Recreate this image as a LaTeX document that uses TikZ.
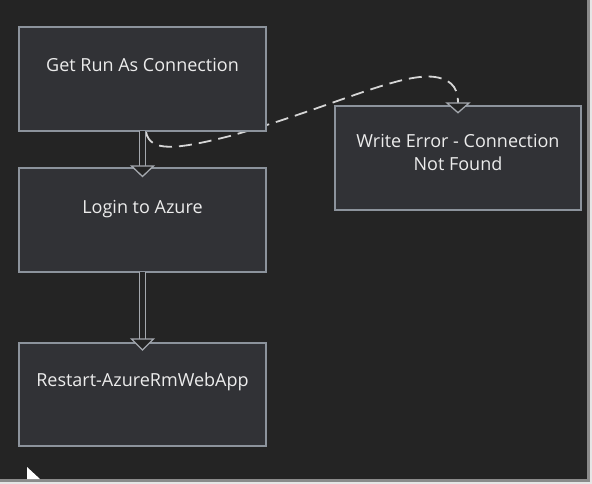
\documentclass[tikz,border=0pt]{standalone}
\usepackage{fontspec}
\setmainfont{Open Sans}
\usetikzlibrary{calc,backgrounds}
\definecolor{bgc}{HTML}{242424}
\definecolor{boxc}{HTML}{313236}
\definecolor{bordc}{HTML}{8C939C}
\definecolor{txtc}{HTML}{ECECEC}
\definecolor{arrc}{HTML}{A4A8AE}
\definecolor{dashc}{HTML}{D6D6D6}
\definecolor{shadc}{HTML}{8A8A8A}
\definecolor{edgec}{HTML}{E6E6E6}
\begin{document}
\begin{tikzpicture}[x=1pt,y=-1pt,
  box/.style={draw=bordc, fill=boxc, line width=1.5pt, minimum width=247pt,
    minimum height=104pt, inner sep=0pt, outer sep=0pt, anchor=north west},
  txt/.style={text=txtc, font=\fontsize{18}{23.7}\selectfont, align=center,
    inner sep=0pt, anchor=base},
  dbl/.style={draw=arrc, line width=1.4pt, double=bgc, double distance=4.4pt},
  headtri/.style={draw=arrc, fill=bgc, line width=1.3pt, line join=miter},
  dsh/.style={draw=dashc, line width=1.8pt, dash pattern=on 13pt off 7pt},
]
\useasboundingbox (0,0) rectangle (592,484);

\node[box] (b1) at (19,27) {};
\node[box] (b2) at (19,168) {};
\node[box, minimum height=103pt] (b3) at (19,343) {};
\node[box, minimum width=246pt] (b4) at (335,106) {};

\node[txt] (t1) at ($(b1.north)+(0,45)$) {Get Run As Connection};
\node[txt] (t2) at ($(b2.north)+(0,45)$) {Login to Azure};
\node[txt] (t3) at ($(b3.north)+(0,43.5)$) {Restart-AzureRmWebApp};
\node[txt] (t4) at ($(b4.north)+(0,65)$) {Write Error - Connection\\Not Found};

\begin{pgfonlayer}{background}
  \fill[edgec] (0,0) rectangle (592,484);
  \fill[shadc] (0,0) rectangle (590,482);
  \fill[bgc] (0,0) rectangle (587,479);
  % dashed connector, passing behind the first box
  \draw[dsh] ($(b1.south)+(3.5,1)$) .. controls (150,152) and (175,150) .. (230,136)
    .. controls (330,108) and (400,72) .. (435,77)
    .. controls (455,80) and (458,92) .. ($(b4.north)+(0,-3)$);
\end{pgfonlayer}

% double-line connectors
\draw[dbl] (b1.south) -- ($(b2.north)+(0,-2)$);
\draw[headtri] ($(b2.north)+(-11,-2)$) -- ($(b2.north)+(11,-2)$) -- ($(b2.north)+(0,8.5)$) -- cycle;
\draw[dbl] (b2.south) -- ($(b3.north)+(0,-4)$);
\draw[headtri] ($(b3.north)+(-11,-4)$) -- ($(b3.north)+(11,-4)$) -- ($(b3.north)+(0,7)$) -- cycle;

% head of the dashed connector
\draw[headtri] ($(b4.north)+(-11,-3)$) -- ($(b4.north)+(11,-3)$) -- ($(b4.north)+(0,6.7)$) -- cycle;

% mouse cursor tip
\fill[white] (27,467) -- (40,479) -- (27,479) -- cycle;
\end{tikzpicture}
\end{document}
